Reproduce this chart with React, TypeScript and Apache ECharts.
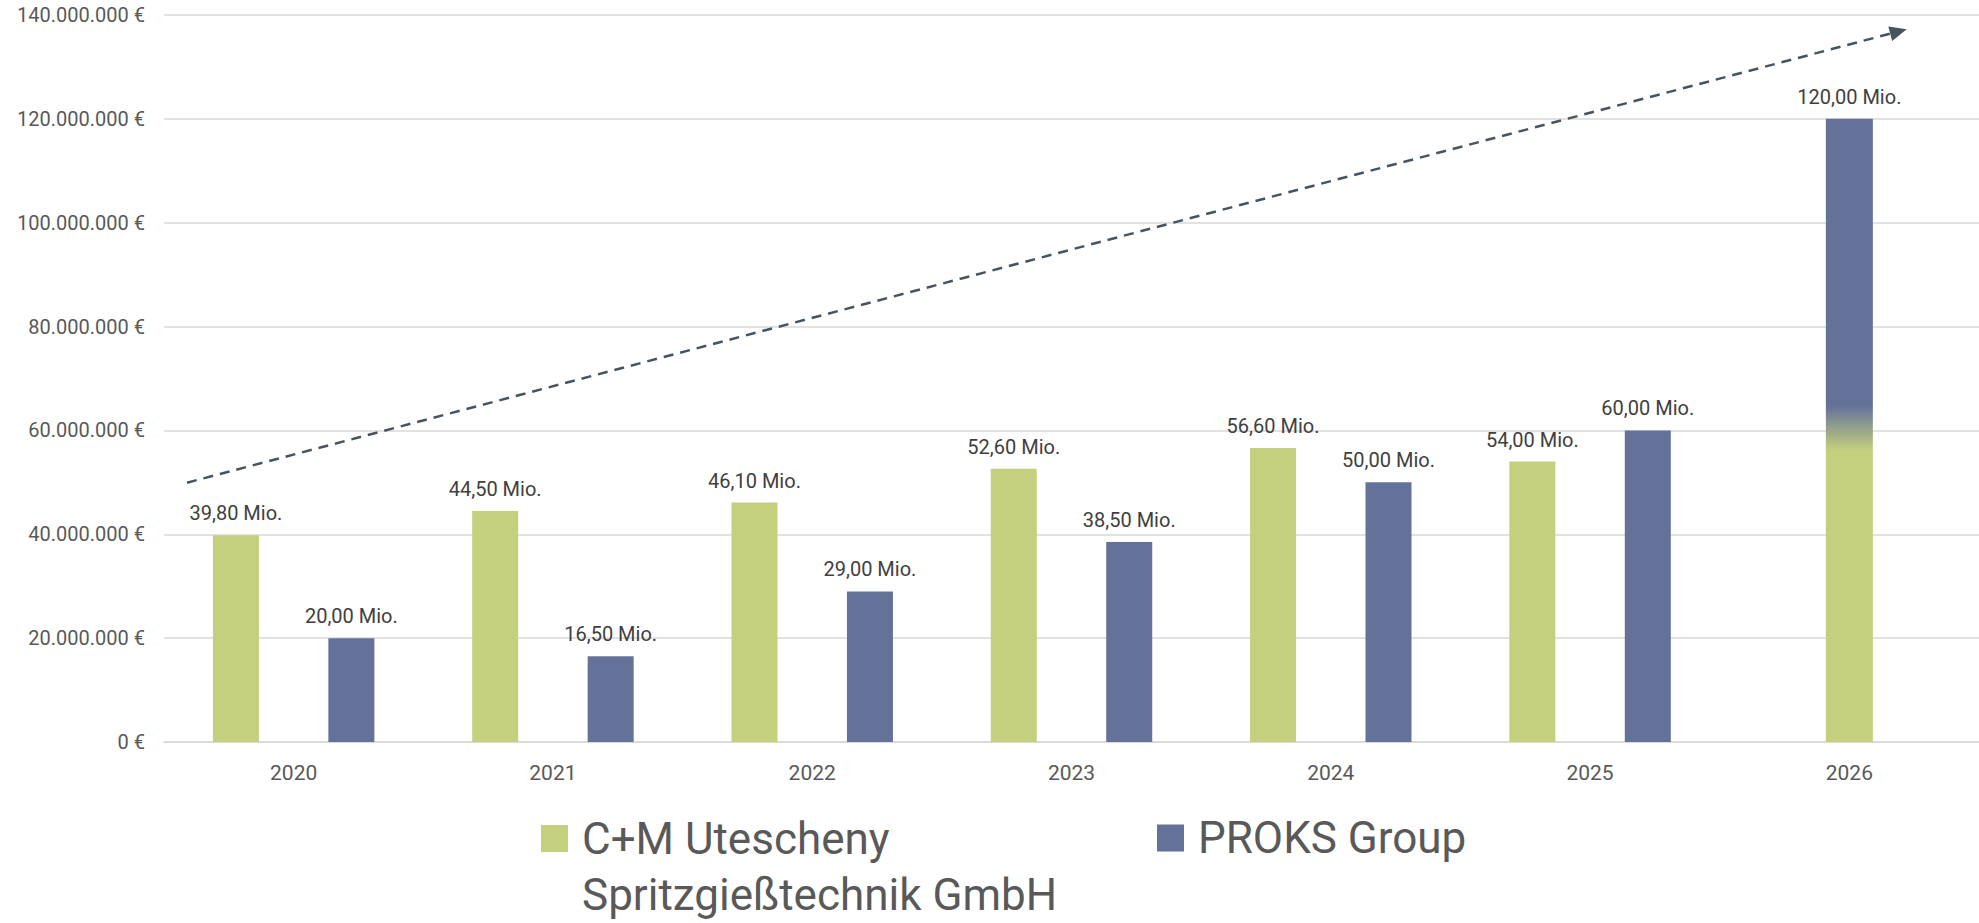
import React, { useEffect, useRef } from 'react';
import * as echarts from 'echarts';

// Data (values in Mio. €)
const categories = ['2020', '2021', '2022', '2023', '2024', '2025', '2026'];
const cmValues = [39.8, 44.5, 46.1, 52.6, 56.6, 54.0, null];
const proksValues = [20.0, 16.5, 29.0, 38.5, 50.0, 60.0, null];
const combinedValues = [null, null, null, null, null, null, 120.0];
const seriesNames = ['C+M Utescheny Spritzgießtechnik GmbH', 'PROKS Group'];
const combinedName = 'C+M + PROKS 2026';
const yMin = 0;
const yMax = 140;
const yInterval = 20;

const GREEN = '#C4D07E';
const BLUE = '#647199';
const FONT = 'Roboto, "Noto Sans", sans-serif';

function fmtEuro(v: number): string {
  const s = Math.round(v * 1e6).toString().replace(/\B(?=(\d{3})+(?!\d))/g, '.');
  return s + ' €';
}
function fmtMio(v: any): string {
  if (v == null || v === '-' || isNaN(Number(v))) return '';
  return Number(v).toFixed(2).replace('.', ',') + ' Mio.';
}

export default function App() {
  const ref = useRef<HTMLDivElement>(null);
  useEffect(() => {
    document.body.style.margin = '0';
    if (!ref.current) return;
    const chart = echarts.init(ref.current, undefined, { renderer: 'svg' });

    // arrow decoration (pixel geometry)
    const sx = 187, sy = 482.7, tx = 1906.7, ty = 29.3;
    const dx = tx - sx, dy = ty - sy;
    const len = Math.sqrt(dx * dx + dy * dy);
    const ux = dx / len, uy = dy / len;
    const headLen = 17, headHalf = 7.5;
    const bx = tx - ux * headLen, by = ty - uy * headLen;
    const nx = -uy, ny = ux;
    const ARROW = '#47545E';

    const labelCommon = {
      show: true,
      position: 'top',
      distance: 12,
      color: '#404040',
      fontSize: 20,
      fontFamily: FONT,
      formatter: (p: any) => fmtMio(p.value),
    };

    chart.setOption({
      animation: false,
      backgroundColor: '#ffffff',
      textStyle: { fontFamily: FONT },
      grid: { left: 164, top: 15, width: 1816, height: 727, containLabel: false },
      xAxis: [
        {
          type: 'category',
          data: categories,
          axisLine: { show: true, lineStyle: { color: '#D9D9D9', width: 1.5 } },
          axisTick: { show: false },
          axisLabel: { color: '#595959', fontSize: 21, fontFamily: FONT, margin: 20 },
          splitLine: { show: false },
        },
        {
          type: 'category',
          data: categories,
          show: false,
          gridIndex: 0,
        },
      ],
      yAxis: {
        type: 'value',
        min: yMin,
        max: yMax,
        interval: yInterval,
        axisLine: { show: false },
        axisTick: { show: false },
        axisLabel: {
          color: '#595959',
          fontSize: 20,
          fontFamily: FONT,
          margin: 19,
          formatter: (v: number) => fmtEuro(v),
        },
        splitLine: { show: true, lineStyle: { color: '#D9D9D9', width: 1.5 } },
      },
      legend: [
        {
          data: [seriesNames[0]],
          left: 541,
          top: 754.5,
          padding: 0,
          icon: 'rect',
          itemWidth: 27,
          itemHeight: 27,
          selectedMode: false,
          formatter: (name: string) => ' \n' + name.replace('Utescheny ', 'Utescheny\n'),
          textStyle: {
            color: '#595959',
            fontSize: 44,
            lineHeight: 56,
            fontFamily: FONT,
            padding: [0, 0, 0, 9],
          },
        },
        {
          data: [seriesNames[1]],
          left: 1157,
          top: 810,
          padding: 0,
          icon: 'rect',
          itemWidth: 27,
          itemHeight: 27,
          selectedMode: false,
          textStyle: {
            color: '#595959',
            fontSize: 44,
            lineHeight: 56,
            fontFamily: FONT,
            padding: [0, 0, 0, 9],
          },
        },
      ],
      series: [
        {
          name: seriesNames[0],
          type: 'bar',
          data: cmValues,
          barWidth: 46,
          barGap: '151%',
          itemStyle: { color: GREEN },
          label: labelCommon,
        },
        {
          name: seriesNames[1],
          type: 'bar',
          data: proksValues,
          barWidth: 46,
          barGap: '151%',
          itemStyle: { color: BLUE },
          label: labelCommon,
        },
        {
          name: combinedName,
          type: 'bar',
          xAxisIndex: 1,
          data: combinedValues,
          barWidth: 47,
          itemStyle: {
            color: new echarts.graphic.LinearGradient(0, 0, 0, 1, [
              { offset: 0, color: BLUE },
              { offset: 0.46, color: BLUE },
              { offset: 0.532, color: GREEN },
              { offset: 1, color: GREEN },
            ]),
          },
          label: labelCommon,
        },
      ],
      graphic: [
        {
          type: 'line',
          z: 100,
          shape: { x1: sx, y1: sy, x2: bx + ux * 2, y2: by + uy * 2 },
          style: { stroke: ARROW, lineWidth: 2.5, lineDash: [10, 7] },
        },
        {
          type: 'polygon',
          z: 100,
          shape: {
            points: [
              [tx, ty],
              [bx + nx * headHalf, by + ny * headHalf],
              [bx - nx * headHalf, by - ny * headHalf],
            ],
          },
          style: { fill: ARROW },
        },
      ],
    });
    return () => chart.dispose();
  }, []);
  return <div ref={ref} style={{ width: 1979, height: 923 }} />;
}
